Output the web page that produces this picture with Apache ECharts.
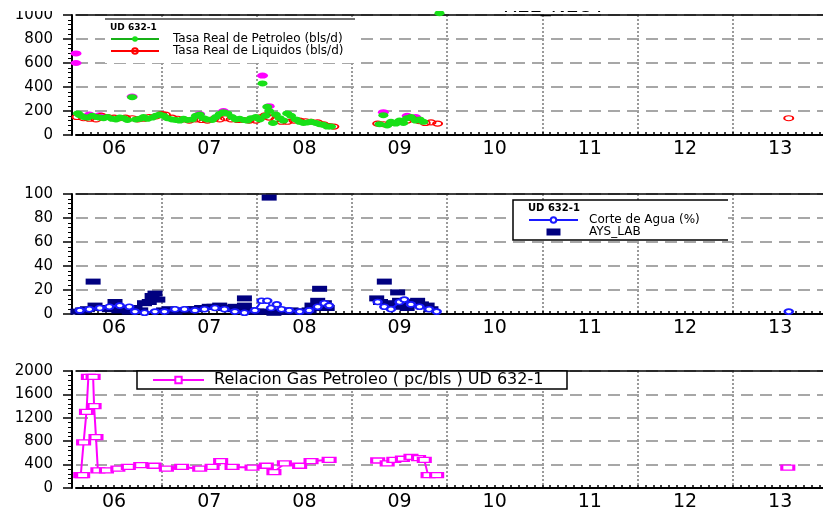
<!DOCTYPE html>
<html><head><meta charset="utf-8">
<script src="https://cdn.jsdelivr.net/npm/echarts@6/dist/echarts.min.js"></script>
<style>html,body{margin:0;padding:0;background:#fff}#c{width:823px;height:512px}</style>
</head><body><div id="c"></div>
<script>
// ---------- axis data ----------
const YEAR_LABELS = ['06','07','08','09','10','11','12','13'];
const YEAR_STARTS = [2006,2007,2008,2009,2010,2011,2012,2013];
const X_MIN = 2006.1, X_MAX = 2013.95;

// ---------- panel 1: rates (bls/d) ----------
const petroleoX = [2006.12,2006.14,2006.18,2006.22,2006.27,2006.31,2006.35,2006.39,2006.43,2006.48,2006.52,2006.56,2006.60,2006.64,2006.69,2006.73,2006.77,2006.81,2006.85,2006.90,2006.94,2006.98,
  2007.02,2007.06,2007.11,2007.15,2007.19,2007.23,2007.27,2007.32,2007.36,2007.40,2007.44,2007.48,2007.53,2007.57,2007.61,2007.65,2007.69,2007.74,2007.78,2007.82,2007.86,2007.90,2007.94,2007.99,
  2008.03,2008.06,2008.09,2008.11,2008.13,2008.17,2008.20,2008.24,2008.28,2008.32,2008.36,2008.41,2008.45,2008.49,2008.53,2008.57,2008.62,2008.66,2008.70,2008.74,2008.78,
  2009.29,2009.33,2009.37,2009.41,2009.46,2009.50,2009.54,2009.58,2009.62,2009.67,2009.71,2009.75,2009.92];
const petroleoY = [180,165,150,145,160,150,145,140,150,135,130,145,140,125,315,130,135,150,135,145,160,170,
  160,140,130,125,120,135,125,130,160,170,140,130,125,150,175,190,180,150,130,135,125,120,140,150,
  130,430,160,235,200,100,170,140,120,180,160,130,110,100,105,110,100,90,85,70,70,
  90,165,80,110,95,120,100,140,150,120,130,110,1015];

const liquidosX = [2006.11,2006.18,2006.24,2006.31,2006.37,2006.43,2006.50,2006.56,2006.62,2006.69,2006.75,2006.81,2006.87,2006.94,
  2007.00,2007.04,2007.11,2007.17,2007.23,2007.29,2007.36,2007.42,2007.48,2007.55,2007.61,2007.67,2007.73,2007.80,2007.86,2007.92,2007.99,
  2008.05,2008.09,2008.13,2008.20,2008.26,2008.32,2008.39,2008.45,2008.51,2008.57,2008.64,2008.70,2008.76,2008.81,
  2009.27,2009.33,2009.41,2009.50,2009.58,2009.65,2009.71,2009.77,2009.83,2009.90,
  2013.59];
const liquidosY = [150,140,135,130,160,150,145,140,145,140,130,135,150,155,
  175,170,145,135,130,120,130,125,120,135,130,140,130,125,125,120,120,
  150,165,145,130,110,110,120,120,115,110,105,90,75,70,
  95,90,100,110,120,130,115,100,105,95,
  140];

const gasX = [2006.10,2006.10,2006.24,2006.35,2006.69,2007.40,2007.65,2008.06,2008.13,2009.33,2009.58,2009.67];
const gasY = [680,600,170,165,320,175,200,495,240,190,160,150];

// ---------- panel 2: water cut (%) ----------
const corteX = [2006.14,2006.24,2006.35,2006.45,2006.56,2006.66,2006.72,2006.82,2006.93,2007.03,2007.14,2007.24,2007.35,2007.45,2007.56,2007.66,2007.77,2007.87,2007.98,
  2008.05,2008.11,2008.15,2008.21,2008.26,2008.34,2008.45,2008.55,2008.64,2008.71,2008.76,
  2009.00,
  2009.27,2009.34,2009.41,2009.50,2009.55,2009.62,2009.71,2009.81,2009.89,
  2011.00,
  2013.59];
const corteY = [3,4,5,6,7,6,2,1,2,2,4,4,3,4,5,4,2,1,3,
  11,11,5,8,4,3,2,3,6,9,7,
  '-',
  10,6,4,10,12,8,6,4,2,
  '-',
  2];

const aysX = [2006.12,2006.17,2006.22,2006.28,2006.30,2006.38,2006.45,2006.51,2006.55,2006.61,2006.66,2006.72,2006.78,2006.82,2006.87,2006.90,2006.93,2006.96,
  2007.02,2007.08,2007.14,2007.24,2007.30,2007.35,2007.42,2007.50,2007.55,2007.61,2007.67,2007.72,2007.77,2007.82,2007.87,2007.87,2007.93,
  2008.00,2008.05,2008.13,2008.18,2008.24,2008.30,2008.36,2008.42,2008.50,2008.55,2008.58,2008.62,2008.64,2008.66,2008.68,2008.71,2008.74,
  2009.26,2009.30,2009.34,2009.39,2009.44,2009.48,2009.50,2009.55,2009.58,2009.60,2009.65,2009.69,2009.73,2009.79,2009.83];
const aysY = [2,3,4,27,7,5,4,10,3,4,2,5,3,9,10,15,17,12,
  3,4,2,3,4,4,5,6,6,7,5,4,6,5,13,7,3,
  2,2,97,1,2,2,3,2,2,3,7,5,11,21,8,9,5,
  13,10,27,9,6,18,11,7,5,10,9,11,8,7,4];

// ---------- panel 3: GOR (pc/bls) ----------
const gorX = [2006.15,2006.17,2006.18,2006.21,2006.23,2006.28,2006.29,2006.31,2006.33,2006.42,2006.54,2006.65,2006.78,2006.92,
  2007.05,2007.21,2007.40,2007.53,2007.62,2007.74,2007.95,2008.10,2008.18,2008.29,2008.45,2008.57,2008.76,
  2009.00,
  2009.27,2009.37,2009.44,2009.53,2009.62,2009.70,2009.76,2009.80,2009.89,
  2011.00,
  2013.58];
const gorY = [220,220,780,1300,1900,1900,1400,870,300,300,330,360,390,380,
  330,360,330,360,460,360,350,380,270,420,380,460,480,
  '-',
  470,420,480,500,530,510,480,220,220,
  '-',
  350];

const zip = (xs, ys) => xs.map((x, i) => [x, ys[i]]);
const FONT = 'DejaVu Sans';
const yearMids = YEAR_STARTS.map(y => y + 0.5);
const monthTicks = [];
YEAR_STARTS.forEach(y => { for (let m = 0; m < 12; m++) { const v = y + m / 12; if (v >= X_MIN && v <= X_MAX) monthTicks.push(v); } });

const grids = [
  {left: 76, width: 748, top: 15, height: 120},
  {left: 76, width: 748, top: 194, height: 120},
  {left: 76, width: 748, top: 371, height: 121}
];

function xAxesFor(i) {
  return [
    { type: 'value', gridIndex: i, min: X_MIN, max: X_MAX, position: 'bottom',
      axisLine: {show: true, onZero: false, lineStyle: {color: '#000', width: 2}},
      axisTick: {show: true, inside: true, customValues: monthTicks, length: 3, lineStyle: {color: '#000', width: 1.5}},
      axisLabel: {show: true, customValues: yearMids, formatter: v => YEAR_LABELS[Math.round(v - 0.5) - 2006],
        fontFamily: FONT, fontSize: 19, color: '#000', margin: 5},
      splitLine: {show: false} },
    { type: 'value', gridIndex: i, min: X_MIN, max: X_MAX, position: 'top',
      axisLine: {show: true, onZero: false, lineStyle: {color: '#000', width: 1.5}},
      axisTick: {show: false, customValues: YEAR_STARTS.slice(1)},
      axisLabel: {show: false},
      splitLine: {show: true, lineStyle: {color: '#9a9a9a', width: 2, type: [2, 2]}} }
  ];
}
function yAxisFor(i, max, interval) {
  return { type: 'value', gridIndex: i, min: 0, max: max, interval: interval, position: 'left', offset: 4,
    axisLine: {show: true, lineStyle: {color: '#000', width: 2}},
    axisTick: {show: true, length: 9, lineStyle: {color: '#000', width: 1.5}},
    minorTick: {show: true, splitNumber: 5, length: 4, lineStyle: {color: '#000', width: 1}},
    axisLabel: {fontFamily: FONT, fontSize: 15, color: '#000', margin: 19, formatter: v => String(v)},
    splitLine: {show: true, lineStyle: {color: '#8a8a8a', width: 1.5, type: [12, 7]}} };
}

const option = {
  backgroundColor: '#fff',
  animation: false,
  grid: grids,
  xAxis: [].concat(xAxesFor(0), xAxesFor(1), xAxesFor(2)),
  yAxis: [yAxisFor(0, 1000, 200), yAxisFor(1, 100, 20), yAxisFor(2, 2000, 400)],
  title: [
    {text: 'REL_NEUT', left: 503, top: -3, padding: 0, textStyle: {fontFamily: FONT, fontSize: 20, fontWeight: 'normal', color: '#000'}, z: 10},
    {text: 'UD 632-1', left: 110, top: 23, padding: 0, textStyle: {fontFamily: FONT, fontSize: 9, fontWeight: 'bold', color: '#000'}, z: 10},
    {text: 'UD 632-1', left: 528, top: 203, padding: 0, textStyle: {fontFamily: FONT, fontSize: 10, fontWeight: 'bold', color: '#000'}, z: 10}
  ],
  legend: [
    {data: ['Tasa Real de Petroleo (bls/d)', 'Tasa Real de Liquidos (bls/d)'], orient: 'vertical', left: 110, top: 33, padding: 0,
      itemWidth: 48, itemHeight: 7, itemGap: 0, selectedMode: false, z: 10,
      lineStyle: {opacity: 1, width: 2},
      textStyle: {fontFamily: FONT, fontSize: 12, color: '#000', padding: [0, 0, 0, 9]}},
    {data: ['Corte de Agua (%)', {name: 'AYS_LAB', icon: 'path://M0,0h10v5h-10z'}], orient: 'vertical', left: 528, top: 214, padding: 0,
      itemWidth: 49, itemHeight: 7, itemGap: 0, selectedMode: false, z: 10,
      textStyle: {fontFamily: FONT, fontSize: 12, color: '#000', padding: [0, 0, 0, 6]}},
    {data: ['Relacion Gas Petroleo ( pc/bls ) UD 632-1'], orient: 'vertical', left: 152, top: 372, padding: 0,
      itemWidth: 51, itemHeight: 8, selectedMode: false, z: 10,
      textStyle: {fontFamily: FONT, fontSize: 16, color: '#000', padding: [0, 0, 0, 5]}}
  ],
  graphic: [
    {type: 'rect', z: 5, shape: {x: 105, y: 19, width: 250, height: 44}, style: {fill: '#fff', stroke: null}},
    {type: 'line', z: 6, shape: {x1: 105, y1: 19, x2: 355, y2: 19}, style: {stroke: '#444', lineWidth: 1.5}},
    {type: 'rect', z: 5, shape: {x: 513, y: 200, width: 215, height: 40}, style: {fill: '#fff', stroke: null}},
    {type: 'polyline', z: 6, shape: {points: [[728, 200], [513, 200], [513, 240], [728, 240]]}, style: {stroke: '#000', lineWidth: 1.5, fill: null}},
    {type: 'rect', z: 5, shape: {x: 137, y: 371, width: 430, height: 18}, style: {fill: '#fff', stroke: '#000', lineWidth: 1.5}},
    {type: 'rect', z: 50, shape: {x: 0, y: 0, width: 823, height: 11}, style: {fill: '#fff', stroke: null}}
  ],
  series: [
    {name: 'Tasa de Gas', type: 'line', xAxisIndex: 0, yAxisIndex: 0, data: zip(gasX, gasY),
      symbol: 'circle', symbolSize: [11, 6], itemStyle: {color: '#ff00ff'}, lineStyle: {opacity: 0}, z: 2},
    {name: 'Tasa Real de Petroleo (bls/d)', type: 'line', xAxisIndex: 0, yAxisIndex: 0, data: zip(petroleoX, petroleoY), clip: false,
      symbol: 'circle', symbolSize: [10, 6], itemStyle: {color: '#18e018'}, lineStyle: {color: '#18b018', width: 2, opacity: 0}, z: 4},
    {name: 'Tasa Real de Liquidos (bls/d)', type: 'line', xAxisIndex: 0, yAxisIndex: 0, data: zip(liquidosX, liquidosY),
      symbol: 'circle', symbolSize: [9, 5], itemStyle: {color: 'rgba(0,0,0,0)', borderColor: '#ff0000', borderWidth: 1.5},
      lineStyle: {color: '#ff0000', width: 2, opacity: 0}, z: 3},
    {name: 'Corte de Agua (%)', type: 'line', xAxisIndex: 2, yAxisIndex: 1, data: zip(corteX, corteY),
      symbol: 'emptyCircle', symbolSize: [8, 5], itemStyle: {color: '#1a1aff', borderWidth: 1.5},
      lineStyle: {color: '#1a1aff', width: 2}, z: 4},
    {name: 'AYS_LAB', type: 'scatter', xAxisIndex: 2, yAxisIndex: 1, data: zip(aysX, aysY),
      symbol: 'rect', symbolSize: [15, 6], itemStyle: {color: '#000080', opacity: 1}, z: 3},
    {name: 'Relacion Gas Petroleo ( pc/bls ) UD 632-1', type: 'line', xAxisIndex: 4, yAxisIndex: 2, data: zip(gorX, gorY),
      symbol: 'emptyRect', symbolSize: [12, 5], itemStyle: {color: '#ff00ff', borderWidth: 1.5},
      lineStyle: {color: '#ff00ff', width: 2}, z: 3}
  ]
};
const chart = echarts.init(document.getElementById('c'));
chart.setOption(option);
</script>
</body></html>
